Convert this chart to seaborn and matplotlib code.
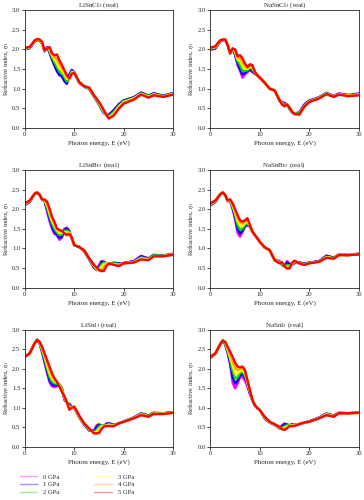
import matplotlib
matplotlib.use("Agg")
import matplotlib.pyplot as plt
import seaborn as sns
import pandas as pd
from matplotlib.lines import Line2D

# photon energy grid (eV), shared by all panels
energy = [0, 1, 2, 2.5, 3, 3.5, 4, 4.5, 5, 5.5, 6, 6.5, 7, 7.5, 8, 8.5, 9, 9.5, 10,
          11, 12, 13, 14, 14.5, 15, 15.5, 16, 16.5, 17, 18, 19, 20, 22, 23.5, 25, 26, 28, 30]

pressures = ["0 GPa", "1 GPa", "2 GPa", "3 GPa", "4 GPa", "5 GPa"]
colors = ["#ff00ff", "#0000ff", "#00dd00", "#ffff00", "#ffa500", "#ff0000"]

# refractive index n1, one list per pressure (0..5 GPa)
n_LiSnCl3 = [
    [2.00,2.03,2.20,2.23,2.23,2.15,1.95,2.05,1.92,1.74,1.58,1.44,1.34,1.31,1.19,1.12,1.36,1.48,1.42,1.15,1.05,1.00,0.80,0.70,0.60,0.48,0.38,0.33,0.34,0.46,0.61,0.70,0.78,0.90,0.82,0.88,0.82,0.89],
    [2.00,2.03,2.20,2.24,2.23,2.15,1.95,2.05,1.93,1.75,1.60,1.45,1.35,1.32,1.20,1.13,1.35,1.47,1.42,1.15,1.05,1.00,0.80,0.70,0.60,0.48,0.38,0.33,0.33,0.45,0.60,0.70,0.78,0.90,0.82,0.88,0.82,0.89],
    [2.01,2.04,2.21,2.24,2.24,2.16,1.96,2.04,1.96,1.80,1.67,1.55,1.43,1.39,1.29,1.18,1.28,1.44,1.42,1.16,1.05,1.01,0.81,0.71,0.62,0.50,0.40,0.32,0.30,0.41,0.57,0.68,0.76,0.88,0.81,0.86,0.81,0.88],
    [2.02,2.05,2.22,2.25,2.24,2.17,1.97,2.03,2.00,1.84,1.74,1.64,1.52,1.46,1.36,1.25,1.25,1.41,1.41,1.16,1.06,1.02,0.82,0.73,0.63,0.52,0.42,0.32,0.27,0.37,0.54,0.66,0.75,0.87,0.79,0.85,0.80,0.87],
    [2.03,2.05,2.22,2.25,2.25,2.18,1.97,2.03,2.03,1.87,1.80,1.75,1.62,1.53,1.42,1.30,1.23,1.39,1.41,1.17,1.06,1.03,0.82,0.74,0.65,0.54,0.44,0.33,0.25,0.34,0.51,0.64,0.73,0.86,0.78,0.84,0.80,0.86],
    [2.04,2.06,2.23,2.26,2.25,2.19,1.98,2.02,2.06,1.90,1.85,1.87,1.72,1.60,1.47,1.34,1.26,1.38,1.40,1.17,1.06,1.03,0.83,0.75,0.66,0.56,0.45,0.33,0.24,0.32,0.49,0.62,0.72,0.85,0.77,0.83,0.79,0.85],
]

n_NaSnCl3 = [
    [1.98,2.02,2.20,2.23,2.23,2.12,1.88,2.02,1.85,1.60,1.45,1.28,1.36,1.42,1.47,1.42,1.38,1.34,1.28,1.15,1.00,0.95,0.72,0.66,0.64,0.60,0.50,0.42,0.37,0.40,0.60,0.70,0.78,0.89,0.82,0.88,0.84,0.88],
    [2.00,2.03,2.21,2.24,2.23,2.12,1.89,2.02,1.87,1.65,1.50,1.36,1.40,1.45,1.50,1.44,1.38,1.34,1.28,1.15,1.00,0.95,0.71,0.64,0.62,0.60,0.49,0.40,0.35,0.38,0.58,0.69,0.78,0.89,0.81,0.87,0.83,0.87],
    [2.01,2.05,2.22,2.24,2.24,2.12,1.89,2.02,1.90,1.70,1.60,1.45,1.45,1.47,1.53,1.50,1.40,1.34,1.28,1.15,1.00,0.95,0.71,0.63,0.59,0.60,0.50,0.41,0.36,0.37,0.56,0.68,0.77,0.88,0.80,0.86,0.82,0.86],
    [2.02,2.06,2.22,2.25,2.24,2.11,1.90,2.02,1.94,1.75,1.70,1.58,1.52,1.50,1.56,1.54,1.41,1.34,1.28,1.15,1.00,0.96,0.71,0.62,0.57,0.60,0.51,0.41,0.36,0.35,0.55,0.67,0.76,0.87,0.80,0.86,0.82,0.85],
    [2.03,2.07,2.23,2.25,2.25,2.11,1.90,2.02,1.97,1.79,1.78,1.68,1.58,1.53,1.59,1.57,1.42,1.34,1.28,1.15,1.00,0.96,0.70,0.61,0.56,0.60,0.52,0.42,0.37,0.34,0.54,0.66,0.75,0.86,0.79,0.85,0.81,0.84],
    [2.04,2.08,2.23,2.25,2.25,2.10,1.91,2.02,2.00,1.83,1.85,1.77,1.64,1.55,1.62,1.60,1.43,1.34,1.28,1.15,1.00,0.96,0.70,0.60,0.55,0.60,0.52,0.42,0.36,0.34,0.54,0.66,0.75,0.86,0.79,0.85,0.81,0.83],
]

n_LiSnBr3 = [
    [2.10,2.18,2.38,2.42,2.38,2.25,2.20,1.95,1.70,1.50,1.37,1.33,1.22,1.27,1.50,1.53,1.45,1.25,1.08,1.05,0.92,0.72,0.50,0.46,0.58,0.68,0.66,0.62,0.60,0.64,0.62,0.63,0.68,0.81,0.75,0.84,0.82,0.87],
    [2.11,2.19,2.39,2.42,2.38,2.25,2.21,2.00,1.76,1.56,1.42,1.36,1.27,1.30,1.48,1.51,1.44,1.25,1.08,1.05,0.93,0.73,0.52,0.45,0.52,0.66,0.66,0.62,0.60,0.63,0.62,0.63,0.67,0.80,0.74,0.83,0.82,0.86],
    [2.12,2.20,2.39,2.42,2.37,2.25,2.22,2.05,1.83,1.63,1.50,1.41,1.34,1.35,1.45,1.46,1.42,1.26,1.08,1.04,0.94,0.74,0.54,0.45,0.48,0.60,0.64,0.62,0.61,0.62,0.60,0.63,0.66,0.77,0.73,0.82,0.81,0.85],
    [2.13,2.21,2.40,2.43,2.37,2.25,2.23,2.10,1.90,1.70,1.58,1.46,1.40,1.40,1.42,1.41,1.40,1.27,1.09,1.04,0.95,0.74,0.56,0.48,0.45,0.53,0.60,0.62,0.62,0.60,0.58,0.62,0.65,0.75,0.72,0.81,0.81,0.85],
    [2.14,2.22,2.40,2.43,2.36,2.25,2.24,2.15,1.96,1.76,1.63,1.49,1.44,1.43,1.40,1.37,1.38,1.28,1.09,1.03,0.95,0.75,0.57,0.50,0.44,0.46,0.52,0.60,0.62,0.59,0.56,0.62,0.65,0.73,0.71,0.80,0.80,0.84],
    [2.15,2.22,2.40,2.43,2.36,2.25,2.25,2.19,2.02,1.81,1.68,1.51,1.47,1.45,1.38,1.34,1.37,1.28,1.09,1.03,0.96,0.75,0.58,0.52,0.45,0.42,0.43,0.55,0.62,0.58,0.55,0.62,0.64,0.72,0.70,0.80,0.80,0.84],
]

n_NaSnBr3 = [
    [2.10,2.18,2.38,2.42,2.36,2.20,2.22,2.00,1.75,1.40,1.30,1.42,1.55,1.60,1.55,1.43,1.34,1.26,1.16,1.02,0.95,0.72,0.68,0.60,0.55,0.68,0.62,0.60,0.62,0.65,0.62,0.64,0.68,0.82,0.77,0.85,0.84,0.87],
    [2.11,2.19,2.38,2.42,2.36,2.21,2.22,2.03,1.80,1.50,1.38,1.45,1.57,1.61,1.56,1.43,1.34,1.26,1.16,1.02,0.95,0.71,0.66,0.58,0.54,0.64,0.60,0.58,0.63,0.64,0.61,0.64,0.67,0.81,0.76,0.84,0.83,0.86],
    [2.12,2.20,2.38,2.42,2.36,2.21,2.23,2.06,1.86,1.60,1.48,1.50,1.60,1.64,1.57,1.43,1.34,1.26,1.16,1.02,0.95,0.71,0.65,0.60,0.53,0.58,0.57,0.59,0.65,0.63,0.60,0.63,0.67,0.79,0.75,0.84,0.83,0.86],
    [2.13,2.21,2.38,2.43,2.36,2.22,2.24,2.09,1.91,1.70,1.58,1.57,1.65,1.69,1.58,1.43,1.34,1.26,1.16,1.02,0.95,0.71,0.64,0.62,0.54,0.53,0.53,0.60,0.67,0.63,0.59,0.63,0.66,0.78,0.75,0.84,0.83,0.86],
    [2.14,2.22,2.38,2.43,2.36,2.22,2.24,2.12,1.96,1.78,1.66,1.63,1.69,1.73,1.59,1.43,1.34,1.26,1.17,1.03,0.96,0.70,0.63,0.64,0.55,0.50,0.50,0.61,0.68,0.62,0.58,0.62,0.66,0.77,0.74,0.83,0.83,0.85],
    [2.15,2.22,2.38,2.43,2.36,2.23,2.25,2.15,2.00,1.85,1.72,1.68,1.72,1.77,1.60,1.43,1.34,1.26,1.17,1.03,0.96,0.70,0.62,0.65,0.55,0.49,0.49,0.62,0.69,0.62,0.58,0.62,0.66,0.76,0.74,0.83,0.83,0.85],
]

n_LiSnI3 = [
    [2.30,2.40,2.65,2.75,2.65,2.42,2.16,1.90,1.66,1.55,1.53,1.55,1.58,1.50,1.20,1.13,1.10,1.02,1.00,0.76,0.56,0.42,0.42,0.55,0.57,0.53,0.53,0.60,0.60,0.56,0.60,0.65,0.75,0.86,0.80,0.87,0.86,0.89],
    [2.30,2.40,2.66,2.75,2.66,2.45,2.20,1.95,1.72,1.60,1.57,1.58,1.60,1.51,1.22,1.14,1.09,1.02,1.01,0.76,0.57,0.42,0.40,0.50,0.57,0.54,0.53,0.58,0.60,0.56,0.60,0.65,0.75,0.85,0.80,0.87,0.86,0.89],
    [2.31,2.40,2.66,2.75,2.67,2.48,2.26,2.02,1.80,1.67,1.63,1.62,1.60,1.49,1.24,1.14,1.05,1.02,1.01,0.77,0.58,0.44,0.37,0.44,0.52,0.55,0.53,0.56,0.58,0.55,0.60,0.65,0.74,0.84,0.79,0.86,0.85,0.88],
    [2.31,2.40,2.66,2.74,2.68,2.51,2.31,2.09,1.89,1.75,1.68,1.64,1.58,1.46,1.26,1.14,1.01,1.01,1.02,0.78,0.59,0.45,0.36,0.38,0.45,0.52,0.53,0.55,0.56,0.54,0.60,0.64,0.74,0.83,0.78,0.85,0.85,0.88],
    [2.32,2.40,2.66,2.74,2.69,2.54,2.36,2.16,1.98,1.82,1.72,1.66,1.56,1.44,1.28,1.15,0.98,1.00,1.03,0.79,0.60,0.46,0.35,0.35,0.38,0.48,0.52,0.54,0.54,0.53,0.60,0.64,0.73,0.82,0.78,0.84,0.84,0.87],
    [2.32,2.40,2.66,2.74,2.70,2.57,2.40,2.23,2.06,1.89,1.76,1.67,1.54,1.41,1.30,1.15,0.95,1.00,1.03,0.80,0.60,0.47,0.34,0.34,0.35,0.45,0.52,0.53,0.53,0.53,0.60,0.64,0.73,0.81,0.77,0.84,0.84,0.87],
]

n_NaSnI3 = [
    [2.28,2.38,2.62,2.74,2.62,2.40,2.10,1.65,1.50,1.62,1.78,1.80,1.70,1.55,1.35,1.20,1.05,1.00,0.95,0.72,0.62,0.56,0.48,0.55,0.60,0.57,0.55,0.58,0.56,0.58,0.62,0.65,0.75,0.85,0.80,0.87,0.86,0.88],
    [2.29,2.39,2.63,2.74,2.64,2.43,2.17,1.80,1.62,1.70,1.84,1.87,1.78,1.60,1.38,1.20,1.06,1.00,0.95,0.73,0.62,0.56,0.47,0.52,0.58,0.57,0.55,0.57,0.56,0.58,0.62,0.65,0.75,0.85,0.80,0.87,0.86,0.88],
    [2.29,2.39,2.63,2.73,2.65,2.46,2.24,1.95,1.75,1.78,1.90,1.92,1.84,1.63,1.41,1.20,1.06,0.99,0.95,0.74,0.63,0.57,0.48,0.48,0.53,0.55,0.55,0.56,0.55,0.58,0.62,0.65,0.74,0.84,0.79,0.87,0.86,0.88],
    [2.30,2.39,2.63,2.73,2.67,2.50,2.30,2.08,1.88,1.88,1.95,1.97,1.88,1.66,1.43,1.20,1.06,0.99,0.95,0.75,0.63,0.57,0.49,0.46,0.48,0.52,0.54,0.55,0.55,0.58,0.62,0.64,0.74,0.83,0.78,0.86,0.86,0.87],
    [2.30,2.40,2.64,2.72,2.68,2.53,2.37,2.20,2.02,1.97,2.00,2.02,1.93,1.69,1.45,1.20,1.07,0.99,0.94,0.76,0.64,0.58,0.50,0.45,0.45,0.49,0.53,0.54,0.54,0.58,0.62,0.64,0.73,0.82,0.78,0.86,0.86,0.87],
    [2.31,2.40,2.64,2.72,2.70,2.57,2.44,2.31,2.16,2.06,2.04,2.06,1.97,1.71,1.46,1.20,1.07,0.99,0.94,0.77,0.64,0.58,0.51,0.45,0.43,0.47,0.53,0.53,0.53,0.58,0.62,0.64,0.73,0.81,0.77,0.86,0.86,0.87],
]

panels = [
    ("LiSnCl$_3$ (real)", n_LiSnCl3),
    ("NaSnCl$_3$ (real)", n_NaSnCl3),
    ("LiSnBr$_3$ (real)", n_LiSnBr3),
    ("NaSnBr$_3$ (real)", n_NaSnBr3),
    ("LiSnI$_3$ (real)", n_LiSnI3),
    ("NaSnI$_3$ (real)", n_NaSnI3),
]

sns.set_style("ticks")
plt.rcParams["font.family"] = ["Liberation Serif", "DejaVu Serif"]
plt.rcParams["mathtext.fontset"] = "stix"
plt.rcParams["axes.linewidth"] = 0.6
plt.rcParams["xtick.major.width"] = 0.6
plt.rcParams["ytick.major.width"] = 0.6
plt.rcParams["xtick.major.size"] = 2
plt.rcParams["ytick.major.size"] = 2

fig = plt.figure(figsize=(3.64, 5.0), dpi=100)

lefts = [0.068, 0.578]
widths = [0.408, 0.407]
bottoms = [0.744, 0.4246, 0.1066]
heights = [0.236, 0.2354, 0.2334]

for i, (title, series) in enumerate(panels):
    row, col = divmod(i, 2)
    ax = fig.add_axes([lefts[col], bottoms[row], widths[col], heights[row]])
    df = pd.DataFrame({"E": energy * len(pressures),
                       "n": [v for s in series for v in s],
                       "P": [p for p in pressures for _ in energy]})
    sns.lineplot(data=df, x="E", y="n", hue="P", palette=colors, hue_order=pressures,
                 linewidth=1.7, legend=False, ax=ax)
    ax.set_xlim(0, 30)
    ax.set_ylim(0, 3.0)
    ax.set_xticks([0, 10, 20, 30])
    ax.set_yticks([0, 0.5, 1.0, 1.5, 2.0, 2.5, 3.0])
    ax.set_yticklabels(["0.0", "0.5", "1.0", "1.5", "2.0", "2.5", "3.0"])
    ax.tick_params(labelsize=4.8, pad=1.2)
    ax.set_title(title, fontsize=5, pad=1.5)
    ax.set_xlabel("Photon energy, E (eV)", fontsize=5, labelpad=2)
    ax.set_ylabel("Refractive index, $\\eta_1$", fontsize=4.8, labelpad=0.8)

handles = [Line2D([], [], color=c, lw=1.0, alpha=0.4) for c in colors]
fig.legend(handles, pressures, loc="upper left", bbox_to_anchor=(0.055, 0.052),
           ncol=2, frameon=False, fontsize=4.8, handlelength=2.6, handletextpad=0.9,
           labelspacing=0.3, columnspacing=5.2, borderaxespad=0, borderpad=0)

fig.savefig("out.png", dpi=100)
